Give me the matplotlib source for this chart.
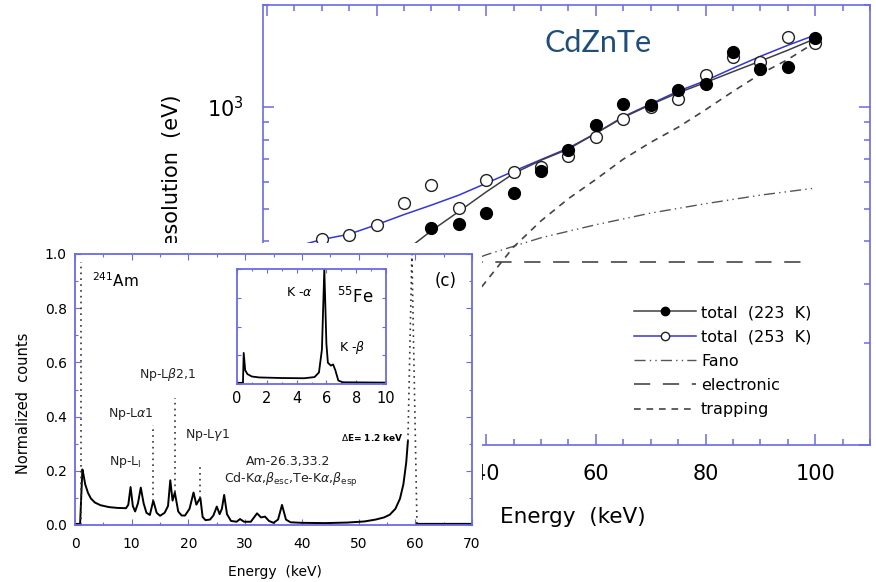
import numpy as np
import matplotlib
matplotlib.use("Agg")
from matplotlib import pyplot as plt
from matplotlib.lines import Line2D
from matplotlib.ticker import MultipleLocator, NullFormatter, LogLocator, FuncFormatter

# Energy resolution of CdZnTe vs energy (eV)
e_223 = [30, 35, 40, 45, 50, 55, 60, 65, 70, 75, 80, 85, 90, 95, 100]
res_223 = [437, 450, 484, 555, 648, 743, 885, 1016, 1009, 1125, 1169, 1455, 1293, 1308, 1593]

e_253 = [10, 15, 20, 25, 30, 35, 40, 45, 50, 55, 60, 65, 70, 75, 80, 85, 90, 95, 100]
res_253 = [407, 418, 448, 519, 587, 501, 608, 642, 665, 715, 812, 920, 1000, 1056, 1242, 1405, 1360, 1604, 1543]

# fitted totals
fit_e_253 = [5, 10, 15, 20, 25, 30, 35, 40, 45, 50, 55, 60, 65, 70, 75, 80, 85, 90, 95, 100]
fit_253 = [385, 405, 420, 448, 480, 512, 548, 594, 645, 698, 755, 835, 935, 1020, 1112, 1195, 1300, 1410, 1520, 1630]
fit_e_223 = [25, 30, 35, 40, 45, 50, 55, 60, 65, 70, 75, 80, 85, 90, 95, 100]
fit_223 = [372, 430, 490, 560, 635, 695, 750, 835, 930, 1015, 1100, 1180, 1270, 1365, 1470, 1590]

# noise components
fano_e = [30, 40, 50, 60, 70, 80, 90, 100]
fano = [318, 365, 410, 448, 485, 517, 548, 575]
elec_e = [10, 99]
elec = [347, 347]
trap_e = [35, 40, 45, 50, 55, 60, 65, 70, 75, 80, 85, 90, 95, 100]
trap = [240, 305, 385, 460, 535, 610, 700, 785, 870, 980, 1110, 1250, 1380, 1550]

# 241Am spectrum (normalized counts)
am_e = [0.0, 0.9, 1.3, 1.5, 1.8, 2.3, 2.8, 3.5, 4.5, 6.0, 7.5, 9.0, 9.4, 9.8, 10.2, 10.6,
        11.1, 11.6, 12.1, 12.6, 13.2, 13.8, 14.4, 15.0, 15.8, 16.4, 16.8, 17.2, 17.6, 18.2,
        18.8, 19.4, 20.2, 20.9, 21.4, 21.8, 22.1, 22.5, 23.0, 23.8, 24.4, 25.0, 25.5, 25.9,
        26.3, 26.8, 27.5, 28.5, 29.1, 29.8, 31.0, 32.1, 32.8, 33.5, 34.2, 35.0, 35.8, 36.5,
        37.2, 38.0, 40.0, 44.0, 48.0, 51.0, 53.0, 54.5, 55.5, 56.5, 57.3, 57.9, 58.4, 58.7]
am_counts = [0.004, 0.004, 0.205, 0.185, 0.15, 0.118, 0.098, 0.083, 0.073, 0.066, 0.063, 0.062,
             0.075, 0.14, 0.07, 0.05, 0.08, 0.138, 0.08, 0.045, 0.037, 0.09, 0.045, 0.034,
             0.045, 0.07, 0.165, 0.09, 0.12, 0.05, 0.035, 0.035, 0.06, 0.12, 0.075, 0.09,
             0.10, 0.03, 0.018, 0.02, 0.035, 0.068, 0.04, 0.06, 0.111, 0.04, 0.015, 0.012,
             0.022, 0.012, 0.012, 0.043, 0.028, 0.031, 0.015, 0.008, 0.02, 0.074, 0.02, 0.01,
             0.008, 0.007, 0.009, 0.013, 0.02, 0.028, 0.038, 0.06, 0.097, 0.15, 0.23, 0.31]
am_tail_e = [60.3, 70.0]
am_tail = [0.004, 0.004]
# sharp lines drawn dotted: energy, base, top
peak_e = [1.0, 13.8, 17.6, 22.1]
peak_base = [0.0, 0.09, 0.12, 0.10]
peak_top = [0.97, 0.37, 0.47, 0.22]
photo_e = [58.7, 59.4, 60.3]
photo = [0.31, 1.0, 0.0]

# 55Fe spectrum
fe_e = [0.0, 0.4, 0.45, 0.55, 0.7, 1.0, 1.5, 3.0, 4.5, 5.2, 5.5, 5.7, 5.86, 6.0, 6.1, 6.3,
        6.45, 6.6, 6.8, 7.1, 10.0]
fe_counts = [0.01, 0.01, 0.27, 0.12, 0.086, 0.065, 0.057, 0.052, 0.05, 0.06, 0.1, 0.3, 1.0,
             0.35, 0.185, 0.16, 0.17, 0.12, 0.03, 0.015, 0.012]

frame = '#6a6ae8'
W, H = 876, 582

fig = plt.figure(figsize=(W / 100, H / 100), dpi=100)

# main panel
ax = fig.add_axes([263 / W, 137 / H, 607 / W, 440 / H])
ax.plot(fit_e_253, fit_253, color='#3535d8', lw=1.1, zorder=2)
ax.plot(fit_e_223, fit_223, color='#404040', lw=1.1, zorder=2)
ax.plot(fano_e, fano, color='#555555', lw=1.0, dashes=(8, 3, 1, 3, 1, 3))
ax.plot(elec_e, elec, color='#555555', lw=1.3, dashes=(9, 7))
ax.plot(trap_e, trap, color='#444444', lw=1.2, dashes=(4, 3.5))
ax.plot(e_253, res_253, 'o', ms=8.5, mfc='white', mec='#222222', mew=1.0, zorder=3)
ax.plot(e_223, res_223, 'o', ms=8.5, mfc='black', mec='black', zorder=4)

ax.set_xlim(-0.7, 110)
ax.set_yscale('log')
ax.set_ylim(100, 2000)
ax.xaxis.set_major_locator(MultipleLocator(20))
ax.xaxis.set_minor_locator(MultipleLocator(5))
# the two lowest labels sit under the spectrum panel
ax.xaxis.set_major_formatter(FuncFormatter(lambda v, p: '' if v < 30 else '%d' % v))
ax.yaxis.set_major_formatter(FuncFormatter(lambda v, p: r'$10^3$' if abs(v - 1000) < 1 else ''))
ax.yaxis.set_minor_locator(LogLocator(base=10, subs=np.arange(2, 10)))
ax.yaxis.set_minor_formatter(NullFormatter())
ax.tick_params(which='both', direction='in', top=True, right=True, color=frame, width=1.1,
               labelsize=15)
ax.tick_params(axis='x', pad=14)
ax.tick_params(axis='y', pad=14)
ax.tick_params(which='major', length=8)
ax.tick_params(which='minor', length=4)
for s in ax.spines.values():
    s.set_color(frame)
    s.set_linewidth(1.2)
ax.set_xlabel('Energy  (keV)', fontsize=15.5)
ax.xaxis.set_label_coords(0.511, -0.14)
ax.set_ylabel('Resolution  (eV)', fontsize=15)
ax.yaxis.set_label_coords(-0.133, 0.609)
ax.text(0.552, 0.914, 'CdZnTe', transform=ax.transAxes, fontsize=22, family='Lato',
        color='#1f4e79', ha='center', va='center')

handles = [
    Line2D([], [], color='#404040', lw=1.1, marker='o', ms=6, mfc='black', mec='black'),
    Line2D([], [], color='#3535d8', lw=1.1, marker='o', ms=6, mfc='white', mec='#222222'),
    Line2D([], [], color='#555555', lw=1.0, dashes=(8, 3, 1, 3, 1, 3)),
    Line2D([], [], color='#555555', lw=1.3, dashes=(9, 7)),
    Line2D([], [], color='#444444', lw=1.2, dashes=(4, 3.5)),
]
labels = ['total  (223  K)', 'total  (253  K)', 'Fano', 'electronic', 'trapping']
ax.legend(handles, labels, loc='upper left', bbox_to_anchor=(0.611, 0.318), frameon=False,
          fontsize=11.5, handlelength=3.9, handletextpad=0.3, labelspacing=0.58,
          borderpad=0, borderaxespad=0)

# white panel holding the spectra
panel = fig.add_axes([0, 0, 482 / W, 339 / H])
panel.set_xticks([])
panel.set_yticks([])
for s in panel.spines.values():
    s.set_visible(False)
panel.set_facecolor('white')
panel.set_zorder(5)

# 241Am spectrum
sp = fig.add_axes([75 / W, 57 / H, 397 / W, 271 / H])
sp.set_zorder(6)
sp.plot(am_e, am_counts, color='black', lw=1.4)
sp.plot(am_tail_e, am_tail, color='black', lw=1.6)
sp.vlines(peak_e, peak_base, peak_top, colors='#333333', lw=1.2, linestyles=(0, (1, 2.5)))
sp.plot(photo_e, photo, color='#333333', lw=1.2, ls=(0, (1, 2.5)))
sp.set_xlim(0, 70)
sp.set_ylim(0, 1)
sp.xaxis.set_major_locator(MultipleLocator(10))
sp.xaxis.set_minor_locator(MultipleLocator(5))
sp.yaxis.set_major_locator(MultipleLocator(0.2))
sp.yaxis.set_minor_locator(MultipleLocator(0.1))
sp.yaxis.set_major_formatter(matplotlib.ticker.FormatStrFormatter('%.1f'))
sp.tick_params(which='both', direction='in', top=True, right=True, color=frame, width=0.8,
               labelsize=10, pad=6)
sp.tick_params(axis='x', pad=9)
sp.tick_params(which='major', length=4)
sp.tick_params(which='minor', length=2)
for s in sp.spines.values():
    s.set_color(frame)
    s.set_linewidth(1.3)
sp.set_xlabel('Energy  (keV)', fontsize=10)
sp.xaxis.set_label_coords(0.504, -0.148)
sp.set_ylabel('Normalized  counts', fontsize=10.5)
sp.yaxis.set_label_coords(-0.112, 0.45)

sp.text(3.0, 0.90, r'$^{241}$Am', fontsize=11, va='center')
sp.text(65.3, 0.90, '(c)', fontsize=12, ha='center', va='center')
sp.text(16.4, 0.555, r'Np-L$\beta$2,1', fontsize=9, ha='center', va='center', color='#222222')
sp.text(9.8, 0.41, r'Np-L$\alpha$1', fontsize=9, ha='center', va='center', color='#222222')
sp.text(23.4, 0.332, r'Np-L$\gamma$1', fontsize=9, ha='center', va='center', color='#222222')
sp.text(8.8, 0.234, r'Np-L$_\mathrm{l}$', fontsize=9, ha='center', va='center', color='#222222')
sp.text(37.6, 0.236, 'Am-26.3,33.2', fontsize=9, ha='center', va='center', color='#222222')
sp.text(38.0, 0.166, r'Cd-K$\alpha$,$\beta_\mathrm{esc}$,Te-K$\alpha$,$\beta_\mathrm{esp}$',
        fontsize=9, ha='center', va='center', color='#222222')
sp.text(52.4, 0.322, r'$\Delta$E= 1.2 keV', fontsize=6.5, ha='center', va='center',
        fontweight='bold')

# 55Fe spectrum
fe = fig.add_axes([237 / W, 198 / H, 149 / W, 115 / H])
fe.set_zorder(7)
fe.plot(fe_e, fe_counts, color='black', lw=1.3)
fe.set_xlim(0, 10)
fe.set_ylim(0, 1)
fe.xaxis.set_major_locator(MultipleLocator(2))
fe.xaxis.set_minor_locator(MultipleLocator(1))
fe.yaxis.set_major_locator(MultipleLocator(0.25))
fe.yaxis.set_major_formatter(NullFormatter())
fe.tick_params(which='both', direction='in', top=True, right=True, color=frame, width=0.8,
               labelsize=10.5, pad=5)
fe.tick_params(which='major', length=3)
fe.tick_params(which='minor', length=1.5)
for s in fe.spines.values():
    s.set_color(frame)
    s.set_linewidth(1.3)
fe.text(4.16, 0.80, r'K -$\alpha$', fontsize=9, ha='center', va='center')
fe.text(7.9, 0.76, r'$^{55}$Fe', fontsize=12, ha='center', va='center')
fe.text(7.7, 0.32, r'K -$\beta$', fontsize=9, ha='center', va='center')

fig.savefig('out.png', dpi=100)
